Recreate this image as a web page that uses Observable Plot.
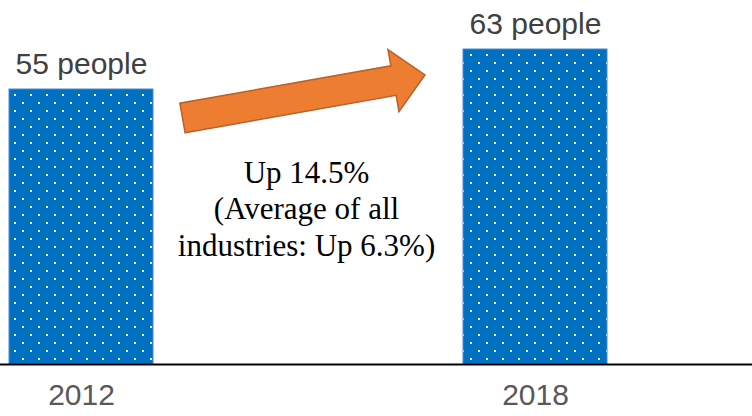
<!DOCTYPE html>
<html>
<head>
<meta charset="utf-8">
<script src="https://cdn.jsdelivr.net/npm/d3@7"></script>
<script src="https://cdn.jsdelivr.net/npm/@observablehq/plot@0.6"></script>
<style>
  html, body { margin: 0; padding: 0; background: #fff; }
  #chart svg { display: block; }
</style>
</head>
<body>
<div id="chart"></div>
<script>
// ---- data ----
const years = ["2012", "2018"];
const people = [55, 63];
const valueSuffix = " people";
const noteLines = ["Up 14.5%", "(Average of all", "industries: Up 6.3%)"];
const arrowFrom = {year: "2012", value: 49.2};
const arrowTo = {year: "2018", value: 57.8};
const noteValue = 31.4;

const data = years.map((y, i) => ({year: y, value: people[i]}));

const W = 752, H = 416;
const serif = "'Liberation Serif', 'Times New Roman', Times, serif";
const sans = "'Liberation Sans', Arial, Helvetica, sans-serif";

const plot = Plot.plot({
  width: W,
  height: H,
  marginLeft: 0,
  marginRight: 0,
  marginTop: 0,
  marginBottom: 52,
  style: {background: "#fff", overflow: "visible"},
  x: {domain: years, range: [8, 607], paddingInner: 0.683, paddingOuter: 0, label: null},
  y: {domain: [0, 72.8], axis: null},
  marks: [
    Plot.barY(data, {x: "year", y: "value", fill: "url(#dotPattern)", stroke: "#4f8ad0", strokeWidth: 1}),
    Plot.ruleY([0], {stroke: "#000", strokeWidth: 2}),
    Plot.axisX({tickSize: 0, tickPadding: 19, fontSize: 30, fontFamily: sans, fill: "#595959", label: null}),
    Plot.text(data, {x: "year", y: "value", text: d => d.value + valueSuffix, dy: -16, lineAnchor: "bottom",
      fontSize: 30, fontFamily: sans, fill: "#404040"}),
    Plot.text([noteLines.join("\n")], {x: () => years[0], y: () => noteValue, dx: 225, lineAnchor: "middle",
      lineHeight: 1.18, fontSize: 31, fontFamily: serif, fill: "#000"})
  ]
});

// pattern definition for dotted bars
const ns = "http://www.w3.org/2000/svg";
const defs = document.createElementNS(ns, "defs");
const pat = document.createElementNS(ns, "pattern");
pat.setAttribute("id", "dotPattern");
pat.setAttribute("patternUnits", "userSpaceOnUse");
pat.setAttribute("width", 16);
pat.setAttribute("height", 16);
const bg = document.createElementNS(ns, "rect");
bg.setAttribute("width", 16); bg.setAttribute("height", 16); bg.setAttribute("fill", "#0070C0");
pat.appendChild(bg);
[[14, 14], [6, 6]].forEach(([px, py]) => {
  const r = document.createElementNS(ns, "rect");
  r.setAttribute("x", px); r.setAttribute("y", py);
  r.setAttribute("width", 2); r.setAttribute("height", 2);
  r.setAttribute("fill", "#fff");
  pat.appendChild(r);
});
defs.appendChild(pat);
plot.insertBefore(defs, plot.firstChild);

// block arrow drawn from scale positions
const xs = plot.scale("x"), ys = plot.scale("y");
const tx = xs.apply(arrowFrom.year) + xs.bandwidth + 29.5;
const ty = ys.apply(arrowFrom.value);
const px = xs.apply(arrowTo.year) - 38;
const py = ys.apply(arrowTo.value);
const dxv = px - tx, dyv = py - ty, len = Math.hypot(dxv, dyv);
const ux = dxv / len, uy = dyv / len, nx = -uy, ny = ux;
const hw = 15, hh = 31.5, hl = 32;
const hx = px - ux * hl, hy = py - uy * hl;
const pts = [
  [tx + nx * hw, ty + ny * hw],
  [hx + nx * hw, hy + ny * hw],
  [hx + nx * hh, hy + ny * hh],
  [px, py],
  [hx - nx * hh, hy - ny * hh],
  [hx - nx * hw, hy - ny * hw],
  [tx - nx * hw, ty - ny * hw]
];
const path = document.createElementNS(ns, "path");
path.setAttribute("d", "M" + pts.map(p => p.join(",")).join("L") + "Z");
path.setAttribute("fill", "#ED7D31");
path.setAttribute("stroke", "#B8612A");
path.setAttribute("stroke-width", 1.5);
path.setAttribute("stroke-linejoin", "miter");
plot.appendChild(path);

document.getElementById("chart").appendChild(plot);
</script>
</body>
</html>
